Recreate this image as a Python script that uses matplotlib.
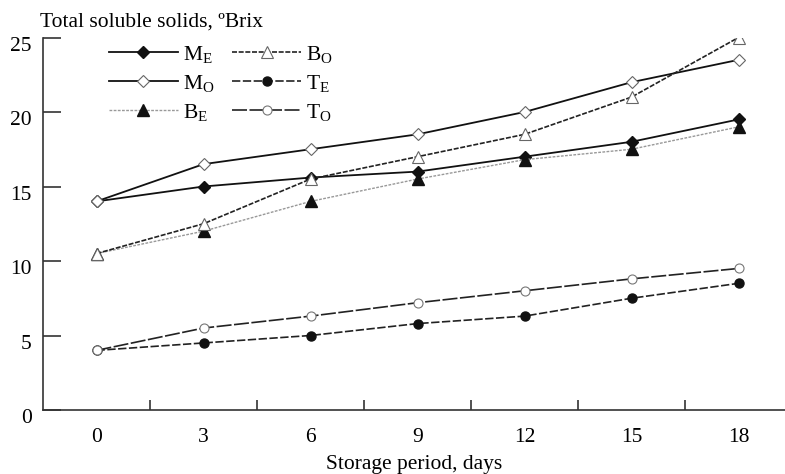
import matplotlib
matplotlib.use("Agg")
import matplotlib.pyplot as plt
import matplotlib.transforms as mtransforms
from matplotlib.ticker import FixedLocator

plt.rcParams['font.family'] = ['Liberation Serif', 'DejaVu Serif']
plt.rcParams['mathtext.fontset'] = 'custom'
plt.rcParams['mathtext.rm'] = 'Liberation Serif'
plt.rcParams['mathtext.it'] = 'Liberation Serif:italic'

# 데이터
days = ['0', '3', '6', '9', '12', '15', '18']
m_e = [14.0, 15.0, 15.6, 16.0, 17.0, 18.0, 19.5]
m_o = [14.0, 16.5, 17.5, 18.5, 20.0, 22.0, 23.5]
b_e = [10.5, 12.0, 14.0, 15.5, 16.8, 17.5, 19.0]
b_o = [10.5, 12.5, 15.5, 17.0, 18.5, 21.0, 25.0]
t_e = [4.0, 4.5, 5.0, 5.8, 6.3, 7.5, 8.5]
t_o = [4.0, 5.5, 6.3, 7.2, 8.0, 8.8, 9.5]
y_ticks = [0, 5, 10, 15, 20, 25]

FS = 15.5

fig = plt.figure(figsize=(7.85, 4.74), dpi=100)
ax = fig.add_axes([43 / 785, 64 / 474, 742 / 785, 372.5 / 474])
x = list(range(len(days)))

ax.plot(x, m_e, color='#111111', lw=1.3, ls='-', marker='D', ms=6.5,
        mfc='#111111', mec='#111111', label=r'M$_\mathrm{E}$')
ax.plot(x, m_o, color='#111111', lw=1.3, ls='-', marker='D', ms=6.5,
        mfc='white', mec='#666666', mew=0.8, label=r'M$_\mathrm{O}$')
ax.plot(x, b_e, color='#999999', lw=1.0, ls=(0, (2, 1)), marker='^', ms=8,
        mfc='#111111', mec='#111111', label=r'B$_\mathrm{E}$')
ax.plot(x, b_o, color='#222222', lw=1.2, ls=(0, (3, 1)), marker='^', ms=8,
        mfc='white', mec='#666666', mew=0.8, label=r'B$_\mathrm{O}$')
ax.plot(x, t_e, color='#222222', lw=1.2, ls=(0, (5, 1.5)), marker='o', ms=6.5,
        mfc='#111111', mec='#111111', label=r'T$_\mathrm{E}$')
ax.plot(x, t_o, color='#222222', lw=1.2, ls=(0, (9, 1.5)), marker='o', ms=6.5,
        mfc='white', mec='#777777', mew=0.8, label=r'T$_\mathrm{O}$')

ax.set_xlim(-0.5, -0.5 + 742 / 107)
ax.set_ylim(0, 25)

for s in ['top', 'right']:
    ax.spines[s].set_visible(False)
for s in ['left', 'bottom']:
    ax.spines[s].set_color('#333333')
    ax.spines[s].set_linewidth(1.2)

# x: 눈금은 범주 경계에, 라벨은 중앙에
ax.set_xticks(x)
ax.set_xticklabels(days)
ax.xaxis.set_minor_locator(FixedLocator([i + 0.5 for i in range(len(days) - 1)]))
ax.tick_params(axis='x', which='major', length=0, pad=13, labelsize=FS)
ax.tick_params(axis='x', which='minor', direction='in', length=7, width=1.2,
               color='#333333')

ax.set_yticks(y_ticks)
ax.tick_params(axis='y', direction='in', length=13, width=1.2, color='#333333',
               pad=8, labelsize=FS)
offset = mtransforms.ScaledTranslation(0, -4.5 / 72, fig.dpi_scale_trans)
for lbl in ax.get_yticklabels():
    lbl.set_transform(lbl.get_transform() + offset)

fig.text(40 / 785, 1 - 22 / 474, 'Total soluble solids, ºBrix', fontsize=FS,
         va='center', ha='left')
ax.set_xlabel('Storage period, days', fontsize=FS, labelpad=6)

ax.legend(ncol=2, loc='upper left', bbox_to_anchor=(0.089, 0.983), frameon=False,
          fontsize=FS, handlelength=3.2, columnspacing=0.8, labelspacing=0.37,
          handletextpad=0.25, borderpad=0, borderaxespad=0)

plt.savefig('out.png', dpi=100, facecolor='white')
